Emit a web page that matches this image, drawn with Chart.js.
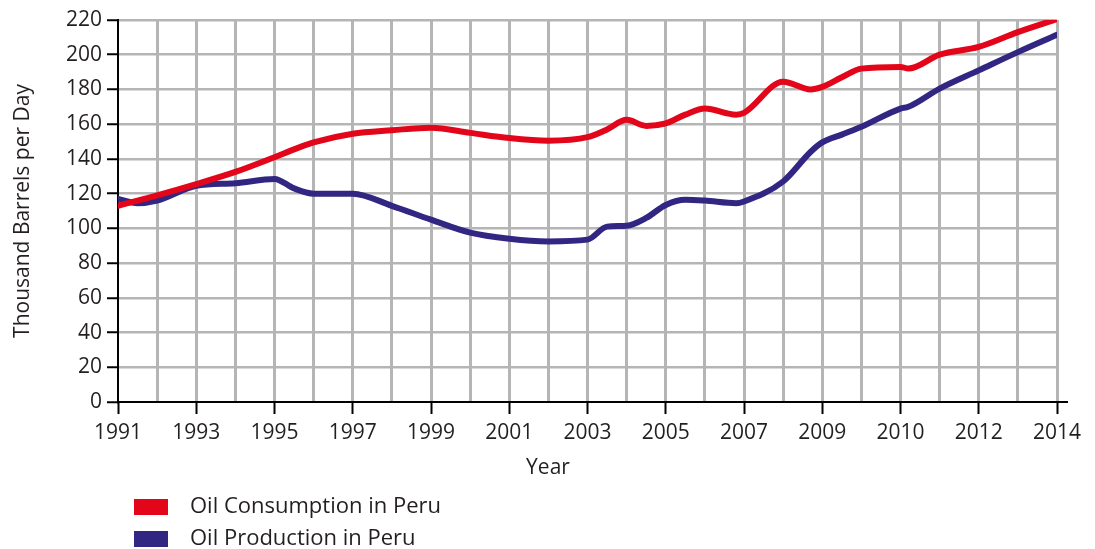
<!DOCTYPE html>
<html>
<head>
<meta charset="utf-8">
<script src="https://cdn.jsdelivr.net/npm/chart.js@4.4.1/dist/chart.umd.min.js"></script>
<style>
  html, body { margin: 0; padding: 0; background: #fff; }
</style>
</head>
<body>
<canvas id="oilChart" width="1095" height="549"></canvas>
<script>
// grid positions (one step per vertical gridline, labels every second one)
var positions   = [0, 0.5, 1, 2, 3, 4, 4.5, 5, 6, 7, 8, 9, 10, 11, 12, 12.5, 13, 13.5, 14, 14.5, 15, 15.8, 16, 17, 17.7, 18, 18.5, 19, 20, 20.2, 21, 22, 23, 24];
var yearLabels  = ['1991', '1993', '1995', '1997', '1999', '2001', '2003', '2005', '2007', '2009', '2010', '2012', '2014'];
var consumption = [113, 116, 119, 125.5, 132.5, 141, 145.5, 149.5, 154.5, 156.5, 158, 155, 152, 150.5, 152.5, 157, 162.5, 159, 160.5, 165.5, 169, 165.5, 166.5, 184.5, 180, 181.5, 187, 192, 193, 192, 200, 204.5, 213, 220.5];
var production  = [117, 114.5, 116, 124.5, 126, 128.5, 123, 120, 120, 113, 105, 97.5, 94, 92.5, 93.5, 101, 101.5, 106, 113.5, 116.5, 116, 114.5, 115.5, 127, 144, 149.5, 154, 158.5, 169, 170, 180.5, 191, 201.5, 211.5];
var xTitle = 'Year';

var RED  = '#e3061b';
var BLUE = '#312783';
var GRID = '#b5b5b5';
var INK  = '#231f20';
var NONE = 'rgba(0,0,0,0)';
var FONT = "'Open Sans', sans-serif";

function points(vals) {
    return vals.map(function (v, i) { return { x: positions[i], y: v }; });
}

// x title (sits left of centre in the original), stacked legend, axis overhang
var extras = {
    id: 'extras',
    afterDraw: function (chart) {
        var ctx = chart.ctx;
        var area = chart.chartArea;
        var xs = chart.scales.x;

        ctx.save();
        ctx.strokeStyle = '#000';
        ctx.lineWidth = 2;
        ctx.beginPath();
        ctx.moveTo(area.right, area.bottom);
        ctx.lineTo(area.right + 11, area.bottom);
        ctx.stroke();

        ctx.fillStyle = INK;
        ctx.font = '21px ' + FONT;
        ctx.textAlign = 'center';
        ctx.textBaseline = 'middle';
        ctx.fillText(xTitle, area.left + 430, area.bottom + 66);

        ctx.font = '22px ' + FONT;
        ctx.textAlign = 'left';
        chart.data.datasets.forEach(function (ds, i) {
            var cy = xs.bottom + 25 + i * 32;
            ctx.fillStyle = ds.borderColor;
            ctx.fillRect(area.left + 16, cy - 8, 34, 16);
            ctx.fillStyle = INK;
            ctx.fillText(ds.label, area.left + 72, cy);
        });
        ctx.restore();
    }
};

new Chart(document.getElementById('oilChart'), {
    type: 'line',
    data: {
        datasets: [{
            label: 'Oil Consumption in Peru',
            data: points(consumption),
            borderColor: RED,
            backgroundColor: RED,
            borderWidth: 6,
            pointRadius: 0,
            cubicInterpolationMode: 'monotone',
            borderCapStyle: 'round'
        }, {
            label: 'Oil Production in Peru',
            data: points(production),
            borderColor: BLUE,
            backgroundColor: BLUE,
            borderWidth: 6,
            pointRadius: 0,
            cubicInterpolationMode: 'monotone',
            borderCapStyle: 'round'
        }]
    },
    options: {
        responsive: false,
        animation: false,
        layout: { padding: { left: 0, top: 20, right: 38, bottom: 67 } },
        plugins: {
            legend: { display: false },
            tooltip: { enabled: false }
        },
        scales: {
            x: {
                type: 'linear',
                min: 0,
                max: 24,
                afterFit: function (s) { s.height = 80; },
                ticks: {
                    stepSize: 1,
                    autoSkip: false,
                    maxRotation: 0,
                    padding: 6,
                    color: INK,
                    font: { family: FONT, size: 21 },
                    callback: function (v) { return v % 2 === 0 ? yearLabels[v / 2] : ''; }
                },
                grid: {
                    color: function (c) { return c.index === 0 ? NONE : GRID; },
                    lineWidth: 3,
                    tickLength: 12,
                    tickWidth: 2,
                    tickColor: function (c) { return c.index % 2 === 0 ? '#000' : NONE; }
                },
                border: { color: '#000', width: 2 }
            },
            y: {
                min: 0,
                max: 220,
                afterFit: function (s) { s.width = 118; },
                ticks: {
                    stepSize: 20,
                    padding: 5,
                    color: INK,
                    font: { family: FONT, size: 21 }
                },
                grid: {
                    color: function (c) { return c.index === 0 ? NONE : GRID; },
                    lineWidth: 2.5,
                    tickLength: 11,
                    tickWidth: 2,
                    tickColor: '#000'
                },
                border: { color: '#000', width: 2 },
                title: {
                    display: true,
                    text: 'Thousand Barrels per Day',
                    color: INK,
                    font: { family: FONT, size: 21 },
                    padding: { top: 10, bottom: 0 }
                }
            }
        }
    },
    plugins: [extras]
});
</script>
</body>
</html>
